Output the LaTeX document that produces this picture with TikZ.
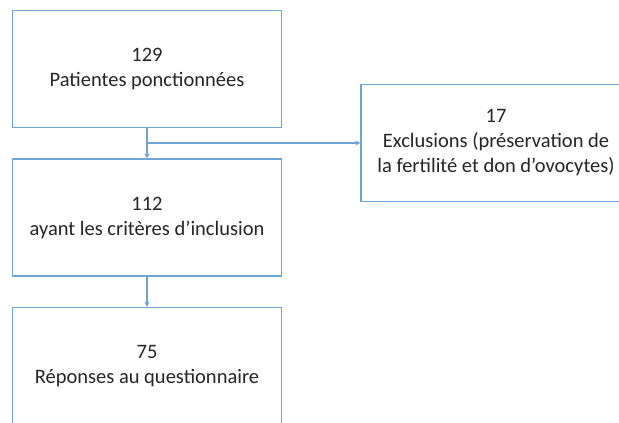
\documentclass[tikz,border=0pt]{standalone}
\usepackage{fontspec}
\setmainfont{Carlito}
\usetikzlibrary{arrows.meta}
\definecolor{boxblue}{RGB}{110,165,215}
\begin{document}
\begin{tikzpicture}[x=1pt,y=-1pt,
  flowbox/.style={draw=boxblue,line width=1.4pt,rectangle,minimum width=269pt,minimum height=117pt,align=center,inner sep=0pt,font=\fontsize{20.5}{25}\selectfont,text=black!85},
  flowarrow/.style={draw=boxblue,line width=1.2pt,-{Stealth[length=5pt,width=5pt]}}]
\clip (0,0) rectangle (619,423);
\fill[white] (0,0) rectangle (619,423);
\node[flowbox] (b1) at (147,69) {129\\Patientes ponctionnées};
\node[flowbox] (b2) at (147,217.5) {112\\ayant les critères d’inclusion};
\node[flowbox] (b3) at (147,366) {75\\Réponses au questionnaire};
\node[flowbox,minimum width=270pt] (ex) at (496,143) {17\\Exclusions (préservation de\\la fertilité et don d’ovocytes)};
\coordinate (br) at (147,143);
\draw[flowarrow] (b1) -- (b2);
\draw[flowarrow] (br) -- (br -| ex.west);
\draw[flowarrow] (b2) -- (b3);
\end{tikzpicture}
\end{document}
